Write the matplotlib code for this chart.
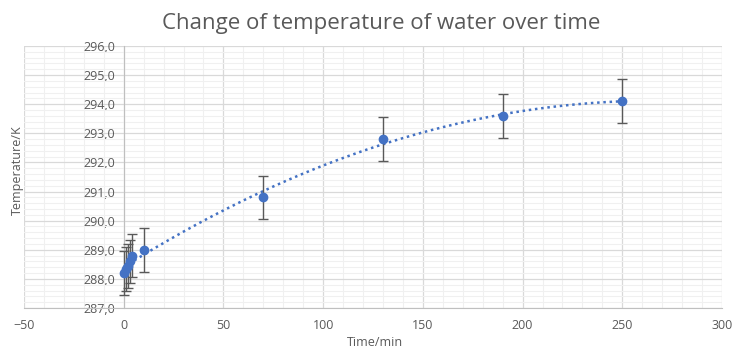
import matplotlib
matplotlib.use("Agg")
import matplotlib.pyplot as plt
import numpy as np
from matplotlib.ticker import MultipleLocator, FuncFormatter

time_min = [0, 1, 2, 3, 4, 10, 70, 130, 190, 250]
temp_k = [288.2, 288.35, 288.45, 288.6, 288.8, 289.0, 290.8, 292.8, 293.6, 294.1]
temp_err = [0.75] * 10

title = "Change of temperature of water over time"
xlabel = "Time/min"
ylabel = "Temperature/K"

plt.rcParams['font.family'] = ['Open Sans', 'DejaVu Sans']
gray = "#595959"
blue = "#4472C4"

fig = plt.figure(figsize=(7.36, 3.5), dpi=100)
ax = fig.add_axes([24/736, 1-308/350, (722-24)/736, (308-46)/350])

ax.set_xlim(-50, 300)
ax.set_ylim(287, 296)
ax.xaxis.set_major_locator(MultipleLocator(50))
ax.xaxis.set_minor_locator(MultipleLocator(10))
ax.yaxis.set_major_locator(MultipleLocator(1))
ax.yaxis.set_minor_locator(MultipleLocator(0.2))
ax.grid(which='major', color='#d9d9d9', linewidth=0.9)
ax.grid(which='minor', color='#f0f0f0', linewidth=0.8)
ax.set_axisbelow(True)

for s in ['top', 'right']:
    ax.spines[s].set_visible(False)
ax.spines['left'].set_position(('data', 0))
ax.spines['left'].set_color('#bfbfbf')
ax.spines['bottom'].set_color('#bfbfbf')
ax.tick_params(which='both', length=0, colors=gray, labelsize=9)
ax.tick_params(axis='x', pad=8)
ax.tick_params(axis='y', pad=6)
ax.yaxis.set_major_formatter(FuncFormatter(lambda v, p: f"{v:.1f}".replace('.', ',')))

# quadratic trend line
coef = np.polyfit(time_min, temp_k, 2)
xt = np.linspace(min(time_min), max(time_min), 300)
ax.plot(xt, np.polyval(coef, xt), linestyle=(0, (1, 1.5)), color=blue, linewidth=1.8, zorder=3)

ax.errorbar(time_min, temp_k, yerr=temp_err, fmt='o', color=blue, markersize=6,
            ecolor=gray, elinewidth=1, capsize=3.5, capthick=1, zorder=4)

fig.text(381/736, 1-23/350, title, ha='center', va='center', fontsize=16, color=gray)
fig.text(375/736, 1-343/350, xlabel, ha='center', va='center', fontsize=9, color=gray)
fig.text(17/736, 1-170/350, ylabel, ha='center', va='center', rotation=90, fontsize=9, color=gray)

fig.savefig("out.png", dpi=100, facecolor='white')
